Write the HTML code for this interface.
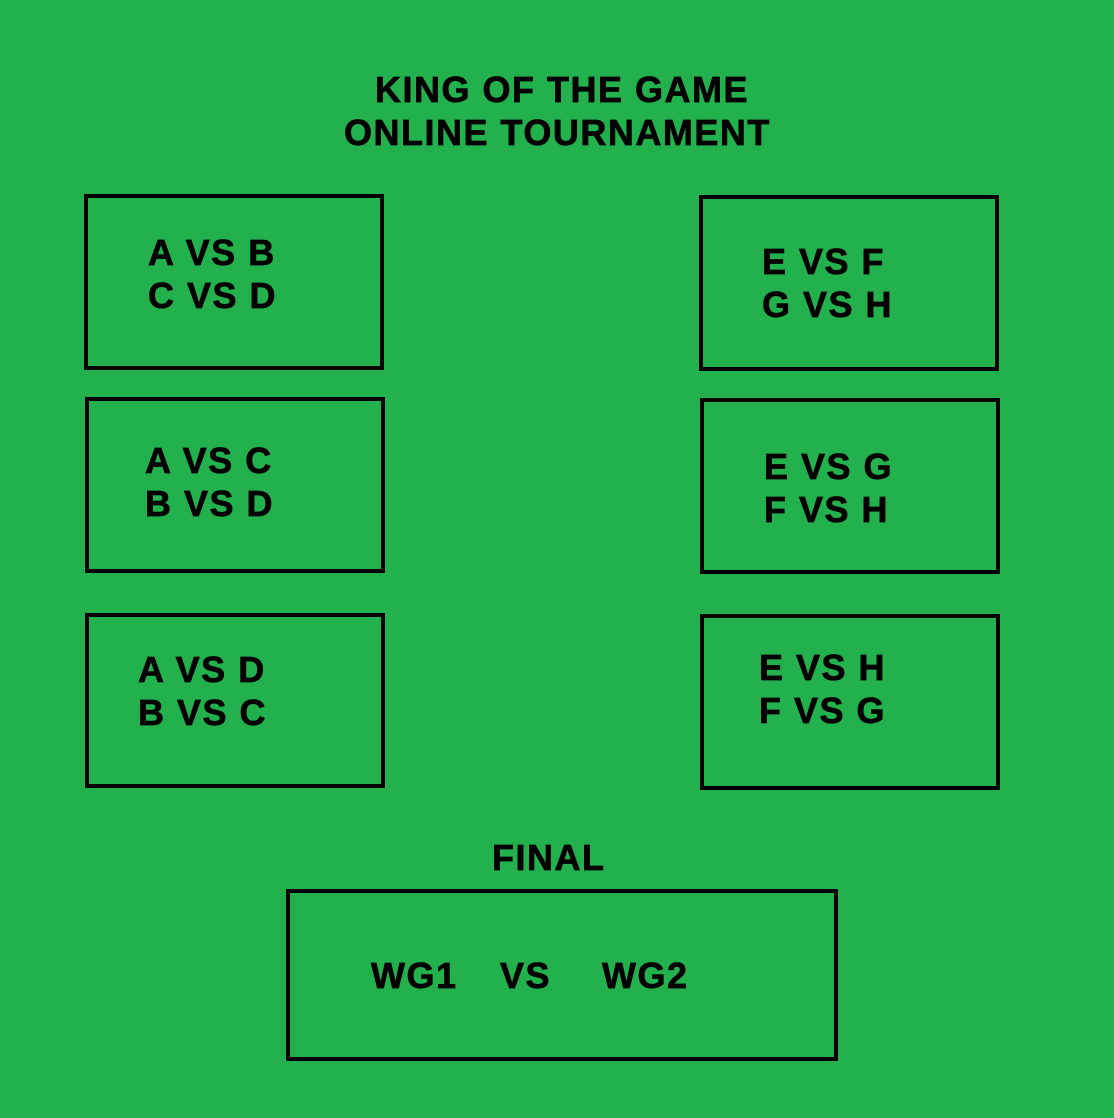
<!DOCTYPE html>
<html><head><style>
body{margin:0;width:1114px;height:1118px;background:#22b14c;position:relative;overflow:hidden;font-family:"Liberation Sans",Arial,sans-serif;font-weight:bold;}
.b{position:absolute;border:4px solid #000;box-sizing:border-box;}
.t{position:absolute;font-size:36px;line-height:43px;letter-spacing:1.5px;color:#000;white-space:pre;-webkit-text-stroke:0.7px #000;}
</style></head><body>
<div class="t" style="left:375px;top:68px">KING OF THE GAME</div>
<div class="t" style="left:344px;top:111px">ONLINE TOURNAMENT</div>

<div class="b" style="left:84px;top:194px;width:300px;height:176px"></div>
<div class="t" style="left:148px;top:231px">A VS B
C VS D</div>
<div class="b" style="left:85px;top:397px;width:300px;height:176px"></div>
<div class="t" style="left:145px;top:439px">A VS C
B VS D</div>
<div class="b" style="left:85px;top:613px;width:300px;height:175px"></div>
<div class="t" style="left:138px;top:648px">A VS D
B VS C</div>

<div class="b" style="left:699px;top:195px;width:300px;height:176px"></div>
<div class="t" style="left:762px;top:240px">E VS F
G VS H</div>
<div class="b" style="left:700px;top:398px;width:300px;height:176px"></div>
<div class="t" style="left:764px;top:445px">E VS G
F VS H</div>
<div class="b" style="left:700px;top:614px;width:300px;height:176px"></div>
<div class="t" style="left:759px;top:646px">E VS H
F VS G</div>

<div class="t" style="left:492px;top:836px">FINAL</div>
<div class="b" style="left:286px;top:889px;width:552px;height:172px"></div>
<div class="t" style="left:371px;top:954px">WG1</div>
<div class="t" style="left:500px;top:954px">VS</div>
<div class="t" style="left:602px;top:954px">WG2</div>
</body></html>
